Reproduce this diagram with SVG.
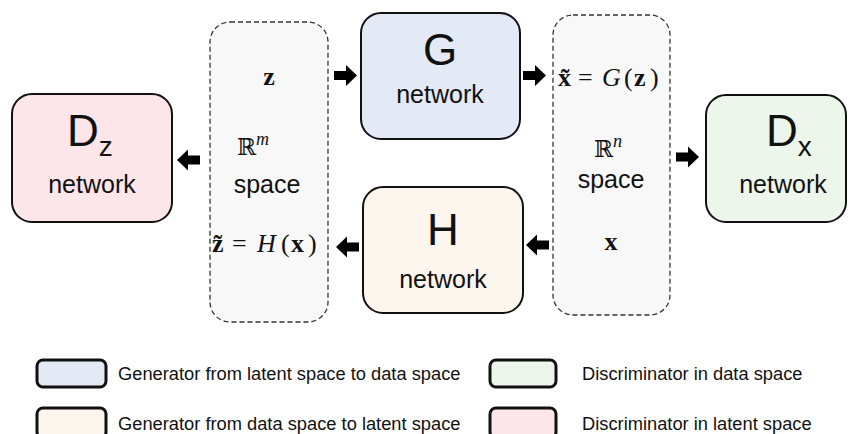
<svg xmlns="http://www.w3.org/2000/svg" width="854" height="434" viewBox="0 0 854 434">
<style>
.node{stroke:#111;stroke-width:2}
.space{fill:#f8f8f8;stroke:#333;stroke-width:1.3;stroke-dasharray:5 3}
.big{font-family:"Liberation Sans",Arial,sans-serif;font-size:44px;fill:#111}
.net{font-family:"Liberation Sans",Arial,sans-serif;font-size:25px;fill:#111;text-anchor:middle}
.sub{font-size:28px}
.math{font-family:"Liberation Serif","DejaVu Serif",serif;font-size:26px;fill:#111}
.bb{font-weight:bold}
.it{font-style:italic}
.ds{font-family:"DejaVu Serif",serif;font-size:23px}
.sup{font-style:italic;font-size:18px}
.leg{stroke:#111;stroke-width:3}
.legt{font-family:"Liberation Sans",Arial,sans-serif;font-size:18.3px;fill:#111}
</style>
<defs>
<path id="arr" d="M0,-4.5 H12 V-10.5 L23,0 L12,10.5 V4.5 H0 Z" fill="#000"/>
</defs>
<rect width="854" height="434" fill="#fff"/>

<g id="space-m">
<rect class="space" x="210" y="22" width="118" height="300" rx="20"/>
<text class="math bb" x="269" y="85" text-anchor="middle">z</text>
<text class="math" x="253" y="155" text-anchor="middle"><tspan class="ds">ℝ</tspan><tspan class="sup" dy="-10">m</tspan></text>
<text class="net" x="267" y="193">space</text>
<text class="math" y="252"><tspan class="bb" x="212">z̃</tspan><tspan x="232">=</tspan><tspan class="it" x="257">H</tspan><tspan x="281">(</tspan><tspan class="bb" x="291">x</tspan><tspan x="308">)</tspan></text>
</g>

<g id="space-n">
<rect class="space" x="553" y="15" width="117" height="300" rx="20"/>
<text class="math" y="86"><tspan class="bb" x="558">x̃</tspan><tspan x="578">=</tspan><tspan class="it" x="602">G</tspan><tspan x="624">(</tspan><tspan class="bb" x="634">z</tspan><tspan x="650">)</tspan></text>
<text class="math" x="608" y="157" text-anchor="middle"><tspan class="ds">ℝ</tspan><tspan class="sup" dy="-10">n</tspan></text>
<text class="net" x="611" y="188">space</text>
<text class="math bb" x="611" y="250" text-anchor="middle">x</text>
</g>

<g id="G">
<rect class="node" x="361" y="13" width="159" height="126" rx="20" fill="#e3eaf6"/>
<text class="big" x="440" y="65" text-anchor="middle">G</text>
<text class="net" x="440" y="103">network</text>
</g>

<g id="H">
<rect class="node" x="363" y="187" width="160" height="126" rx="20" fill="#fcf6ef"/>
<text class="big" x="443" y="245" text-anchor="middle">H</text>
<text class="net" x="443" y="288">network</text>
</g>

<g id="Dz">
<rect class="node" x="12" y="94" width="160" height="128" rx="20" fill="#fce6e9"/>
<text class="big" x="67" y="146">D<tspan class="sub" dy="10">z</tspan></text>
<text class="net" x="92" y="193">network</text>
</g>

<g id="Dx">
<rect class="node" x="706" y="95" width="140" height="127" rx="20" fill="#edf6ea"/>
<text class="big" x="766" y="146">D<tspan class="sub" dy="10">x</tspan></text>
<text class="net" x="783" y="193">network</text>
</g>

<g id="connectors">
<use href="#arr" transform="translate(334,75.5)"/>
<use href="#arr" transform="translate(523,75.5)"/>
<use href="#arr" transform="translate(676,157)"/>
<use href="#arr" transform="translate(549,245) scale(-1,1)"/>
<use href="#arr" transform="translate(359,247) scale(-1,1)"/>
<use href="#arr" transform="translate(200,160) scale(-1,1)"/>
</g>

<g id="legend">
<rect class="leg" x="37" y="360" width="69" height="27" rx="6" fill="#e3eaf6"/>
<text class="legt" x="118" y="380">Generator from latent space to data space</text>
<rect class="leg" x="37" y="408" width="69" height="30" rx="6" fill="#fcf6ef"/>
<text class="legt" x="118" y="430">Generator from data space to latent space</text>
<rect class="leg" x="490" y="360" width="66" height="27" rx="6" fill="#edf6ea"/>
<text class="legt" x="582" y="380">Discriminator in data space</text>
<rect class="leg" x="490" y="408" width="66" height="30" rx="6" fill="#fce6e9"/>
<text class="legt" x="582" y="430">Discriminator in latent space</text>
</g>
</svg>
